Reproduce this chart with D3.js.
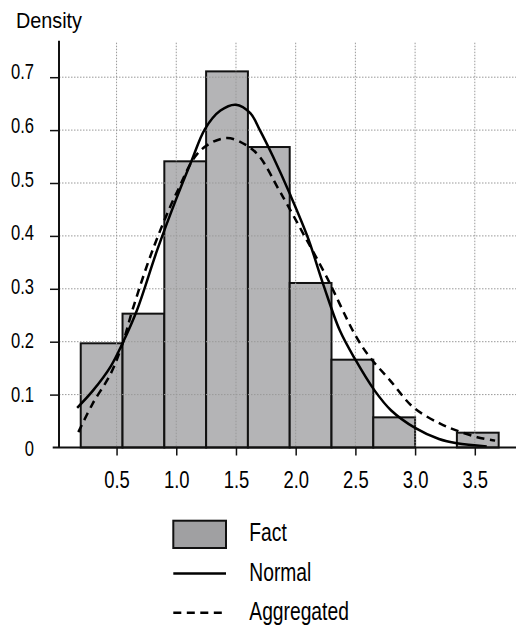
<!DOCTYPE html>
<html>
<head>
<meta charset="utf-8">
<script src="https://cdn.jsdelivr.net/npm/d3@7"></script>
<style>
  body { margin: 0; background: #fff; }
  text { font-family: "Liberation Sans", Arial, sans-serif; fill: #000; }
</style>
</head>
<body>
<div id="chart"></div>
<script>
// Histogram bins (density scale)
const binEdges = [0.2, 0.55, 0.9, 1.25, 1.6, 1.95, 2.3, 2.65, 3.0, 3.35, 3.7];
const factDensity = [0.197, 0.253, 0.541, 0.711, 0.568, 0.311, 0.166, 0.057, 0, 0.028];

// Fitted normal curve
const normalX = [0.17, 0.3, 0.45, 0.55, 0.67, 0.84, 1.0, 1.13, 1.24, 1.37, 1.5, 1.62, 1.7, 1.81, 1.95, 2.1, 2.23, 2.37, 2.5, 2.66, 2.8, 3.0, 3.2, 3.35, 3.6];
const normalY = [0.075, 0.107, 0.153, 0.197, 0.259, 0.373, 0.47, 0.543, 0.602, 0.637, 0.648, 0.632, 0.6, 0.55, 0.48, 0.398, 0.309, 0.221, 0.166, 0.108, 0.07, 0.037, 0.016, 0.008, 0.002];

// Aggregated curve
const aggX = [0.18, 0.3, 0.45, 0.55, 0.64, 0.8, 1.0, 1.2, 1.42, 1.59, 1.7, 1.855, 1.925, 2.064, 2.26, 2.5, 2.62, 2.79, 2.985, 3.21, 3.35, 3.52, 3.67];
const aggY = [0.029, 0.083, 0.139, 0.196, 0.265, 0.372, 0.48, 0.561, 0.585, 0.571, 0.549, 0.489, 0.461, 0.404, 0.322, 0.212, 0.171, 0.127, 0.076, 0.045, 0.032, 0.0195, 0.013];

// Axis ticks
const xTicks = [0.5, 1.0, 1.5, 2.0, 2.5, 3.0, 3.5];
const yTicks = [0, 0.1, 0.2, 0.3, 0.4, 0.5, 0.6, 0.7];

const legendItems = ["Fact", "Normal", "Aggregated"];

const W = 516, H = 630;
const plotLeft = 59, plotRight = 516, plotTop = 40.7, plotBottom = 447.5;

// squeeze text horizontally to mimic a condensed face
function condense(sel, factor) {
    sel.each(function() {
        const len = this.getComputedTextLength();
        d3.select(this)
            .attr("textLength", len * factor)
            .attr("lengthAdjust", "spacingAndGlyphs");
    });
}

const svg = d3.select("#chart")
    .append("svg")
    .attr("width", W)
    .attr("height", H);

const x = d3.scaleLinear()
    .domain([0.018, 3.845])
    .range([plotLeft, plotRight]);

const y = d3.scaleLinear()
    .domain([0, 0.769])
    .range([plotBottom, plotTop]);

// y tick labels sit on a slightly wider spacing than the ticks
const yLabel = d3.scaleLinear()
    .domain([0, 0.7])
    .range([448.3, 71.7]);

// Bars
const bins = factDensity.map((d, i) => ({x0: binEdges[i], x1: binEdges[i + 1], v: d}));
svg.append("g")
    .selectAll("rect")
    .data(bins.filter(d => d.v > 0))
    .join("rect")
    .attr("x", d => x(d.x0))
    .attr("y", d => y(d.v))
    .attr("width", d => x(d.x1) - x(d.x0))
    .attr("height", d => y(0) - y(d.v))
    .attr("fill", "#b4b4b6")
    .attr("stroke", "#111")
    .attr("stroke-width", 2);

// Grid
svg.append("g")
    .selectAll("line")
    .data(xTicks)
    .join("line")
    .attr("x1", d => x(d)).attr("x2", d => x(d))
    .attr("y1", plotTop + 2).attr("y2", plotBottom)
    .attr("stroke", "#999")
    .attr("stroke-width", 1)
    .attr("stroke-dasharray", "1.5,1.5");

svg.append("g")
    .selectAll("line")
    .data(yTicks.filter(d => d > 0))
    .join("line")
    .attr("x1", plotLeft).attr("x2", plotRight)
    .attr("y1", d => y(d)).attr("y2", d => y(d))
    .attr("stroke", "#999")
    .attr("stroke-width", 1)
    .attr("stroke-dasharray", "1.5,1.5");

// Curves
const line = d3.line()
    .x(d => x(d[0]))
    .y(d => y(d[1]))
    .curve(d3.curveCatmullRom);

svg.append("path")
    .datum(normalX.map((v, i) => [v, normalY[i]]))
    .attr("d", line)
    .attr("fill", "none")
    .attr("stroke", "#000")
    .attr("stroke-width", 2.5);

svg.append("path")
    .datum(aggX.map((v, i) => [v, aggY[i]]))
    .attr("d", line)
    .attr("fill", "none")
    .attr("stroke", "#000")
    .attr("stroke-width", 2.5)
    .attr("stroke-dasharray", "8,5.5");

// X axis
const xAxis = svg.append("g")
    .attr("transform", `translate(0, ${plotBottom})`)
    .call(d3.axisBottom(x).tickValues(xTicks).tickFormat(d3.format(".1f")).tickSize(8).tickSizeOuter(0).tickPadding(16));
xAxis.select(".domain").remove();
xAxis.selectAll("line").attr("stroke", "#111").attr("stroke-width", 1.5);
xAxis.selectAll("text").attr("font-size", 23.3).attr("font-family", null).attr("fill", "#000");
condense(xAxis.selectAll("text"), 0.79);

svg.append("line")
    .attr("x1", 52.7).attr("x2", plotRight)
    .attr("y1", plotBottom).attr("y2", plotBottom)
    .attr("stroke", "#111").attr("stroke-width", 2);

// Y axis
const yAxis = svg.append("g")
    .attr("transform", `translate(${plotLeft}, 0)`)
    .call(d3.axisLeft(y).tickValues(yTicks).tickFormat(d => d === 0 ? "0" : d3.format(".1f")(d)).tickSize(9).tickSizeOuter(0).tickPadding(16));
yAxis.select(".domain").remove();
yAxis.selectAll(".tick line").filter(d => d === 0).remove();
yAxis.selectAll("line").attr("stroke", "#111").attr("stroke-width", 1.5);
yAxis.selectAll("text")
    .attr("font-size", 21.5)
    .attr("font-family", null)
    .attr("fill", "#000")
    .attr("y", d => yLabel(d) - y(d));
condense(yAxis.selectAll("text"), 0.77);

svg.append("line")
    .attr("x1", plotLeft).attr("x2", plotLeft)
    .attr("y1", plotTop).attr("y2", plotBottom)
    .attr("stroke", "#111").attr("stroke-width", 2);

const title = svg.append("text")
    .attr("x", 16)
    .attr("y", 28.3)
    .attr("font-size", 22)
    .text("Density");
condense(title, 0.9);

// Legend
const legend = svg.append("g")
    .selectAll("g")
    .data(legendItems)
    .join("g")
    .attr("transform", (d, i) => `translate(173.3, ${534.3 + i * 39.2})`);

legend.filter(d => d === "Fact")
    .append("rect")
    .attr("x", 0).attr("y", -13.6)
    .attr("width", 52.7).attr("height", 27.3)
    .attr("fill", "#a0a0a2")
    .attr("stroke", "#111")
    .attr("stroke-width", 2);

legend.filter(d => d !== "Fact")
    .append("line")
    .attr("x1", 0).attr("x2", 52.7)
    .attr("y1", 0).attr("y2", 0)
    .attr("stroke", "#000")
    .attr("stroke-width", 2.5)
    .attr("stroke-dasharray", d => d === "Aggregated" ? "8,5.5" : null);

const legendText = legend.append("text")
    .attr("x", 76)
    .attr("y", 7)
    .attr("font-size", 25)
    .text(d => d);
condense(legendText, 0.77);
</script>
</body>
</html>
